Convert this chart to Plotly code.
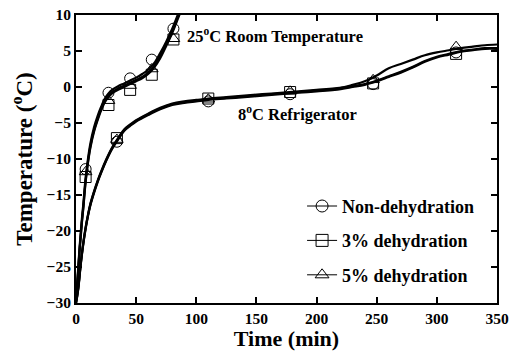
import plotly.graph_objects as go

# ---------------- data ----------------
room_t = [0, 1, 2, 3, 4, 5, 6, 8, 10, 12, 15, 18, 21, 24, 27, 30, 35, 40, 45,
          50, 55, 60, 65, 70, 75, 80, 85, 90]
room_non = [-29.3, -27.2, -24.7, -22.2, -20.1, -18.1, -16.4, -12.6, -9.9, -7.8, -5.6, -4.0,
            -2.7, -1.6, -0.9, -0.4, 0.1, 0.5, 0.9, 1.3, 1.8, 2.4, 3.3, 4.7, 6.3, 8.1, 10.2, 12.4]
room_3 = [-29.6, -27.7, -25.2, -22.7, -20.7, -18.7, -17.0, -13.2, -10.5, -8.4, -6.2, -4.6,
          -3.2, -2.1, -1.4, -0.9, -0.4, 0.0, 0.4, 0.8, 1.2, 1.8, 2.7, 4.0, 5.7, 7.5, 9.6, 11.8]
room_5 = [-29.5, -27.5, -25.0, -22.5, -20.5, -18.5, -16.8, -13.0, -10.3, -8.2, -6.0, -4.4,
          -3.0, -1.9, -1.2, -0.7, -0.2, 0.2, 0.6, 1.0, 1.4, 2.0, 2.9, 4.3, 5.9, 7.7, 9.8, 12.0]

fr_t = [0, 1, 2, 4, 6, 8, 10, 12, 15, 18, 21, 25, 30, 35, 40, 45, 50, 60, 70, 80, 90,
        100, 110, 125, 140, 155, 170, 185, 200, 215, 230, 240, 250, 260, 270, 280, 290,
        300, 310, 320, 330, 340, 350]
fr_non = [-30.0, -29.1, -27.9, -24.6, -21.9, -19.7, -17.9, -16.4, -14.7, -13.2, -11.9,
          -10.3, -8.6, -7.3, -6.1, -5.4, -4.8, -3.9, -3.1, -2.5, -2.2, -2.0, -1.8, -1.6,
          -1.4, -1.2, -1.0, -0.8, -0.6, -0.4, 0.0, 0.3, 0.8, 1.4, 2.0, 2.7, 3.5, 4.1,
          4.5, 4.9, 5.1, 5.3, 5.3]
fr_3 = [-30.0, -28.9, -27.7, -24.4, -21.7, -19.5, -17.7, -16.2, -14.5, -13.0, -11.7,
        -10.1, -8.4, -7.1, -5.9, -5.2, -4.6, -3.7, -2.9, -2.3, -2.0, -1.8, -1.6, -1.4,
        -1.2, -1.0, -0.8, -0.6, -0.4, -0.2, 0.1, 0.4, 0.9, 1.5, 2.1, 2.8, 3.6, 4.2,
        4.6, 5.0, 5.2, 5.4, 5.4]
fr_5 = [-30.0, -29.0, -27.8, -24.5, -21.8, -19.6, -17.8, -16.3, -14.6, -13.1, -11.8,
        -10.2, -8.5, -7.2, -6.0, -5.3, -4.7, -3.8, -3.0, -2.4, -2.1, -1.9, -1.7, -1.5,
        -1.3, -1.1, -0.9, -0.7, -0.5, -0.3, 0.3, 0.8, 1.6, 2.6, 3.2, 3.8, 4.4, 4.8,
        5.1, 5.4, 5.6, 5.8, 5.9]

# marker points (open symbols)
room_mk_t = [8, 27, 45, 63, 81]
room_mk_non = [-11.4, -0.8, 1.2, 3.8, 8.1]
room_mk_3 = [-12.5, -2.5, -0.4, 1.7, 6.6]
room_mk_5 = [-11.8, -1.9, 0.2, 2.5, 6.7]

fr_mk_t = [34, 110, 178, 247, 316]
fr_mk_non = [-7.6, -2.0, -1.0, 0.4, 4.8]
fr_mk_3 = [-7.1, -1.6, -0.7, 0.5, 4.6]
fr_mk_5 = [-7.3, -1.7, -0.6, 1.0, 5.6]

series_names = ["Non-dehydration", "3% dehydration", "5% dehydration"]
symbols = ["circle-open", "square-open", "triangle-up-open"]

x_ticks = [0, 50, 100, 150, 200, 250, 300, 350]
y_ticks = [-30, -25, -20, -15, -10, -5, 0, 5, 10]

FONT = "Liberation Serif"

fig = go.Figure()

room_lines = [room_non, room_3, room_5]
fr_lines = [fr_non, fr_3, fr_5]
room_mks = [room_mk_non, room_mk_3, room_mk_5]
fr_mks = [fr_mk_non, fr_mk_3, fr_mk_5]

for i in range(3):
    fig.add_trace(go.Scatter(x=room_t, y=room_lines[i], mode="lines",
                             line=dict(color="black", width=2.2, shape="spline"),
                             showlegend=False, hoverinfo="skip"))
    fig.add_trace(go.Scatter(x=fr_t, y=fr_lines[i], mode="lines",
                             line=dict(color="black", width=2.2, shape="spline"),
                             showlegend=False, hoverinfo="skip"))
for i in range(3):
    fig.add_trace(go.Scatter(x=room_mk_t, y=room_mks[i], mode="markers",
                             marker=dict(symbol=symbols[i], size=11, color="black",
                                         line=dict(width=1)),
                             showlegend=False))
    fig.add_trace(go.Scatter(x=fr_mk_t, y=fr_mks[i], mode="markers",
                             marker=dict(symbol=symbols[i], size=11, color="black",
                                         line=dict(width=1)),
                             showlegend=False))
# legend entries
for i in range(3):
    fig.add_trace(go.Scatter(x=[None], y=[None], mode="lines+markers", name=series_names[i],
                             legendgroup=str(i),
                             line=dict(color="black", width=1),
                             marker=dict(symbol=symbols[i], size=12, color="black",
                                         line=dict(width=1))))

fig.update_layout(
    width=512, height=351,
    margin=dict(l=76, r=15, t=15, b=48),
    paper_bgcolor="white", plot_bgcolor="white",
    font=dict(family=FONT, size=15, color="black"),
    showlegend=True,
    legend=dict(x=0.537, y=0.40, xanchor="left", yanchor="top",
                bgcolor="rgba(0,0,0,0)", tracegroupgap=8,
                font=dict(family=FONT, size=18, color="black", weight="bold"),
                itemwidth=30),
    xaxis=dict(range=[0, 350], tickvals=x_ticks, automargin=False,
               ticks="inside", ticklen=6, tickwidth=2, tickcolor="black",
               showline=True, linewidth=2, linecolor="black", mirror="ticks",
               showgrid=False, zeroline=False,
               tickfont=dict(family=FONT, size=15.5, weight="bold"),
               title=dict(text="Time (min)", standoff=2,
                          font=dict(family=FONT, size=22, weight="bold"))),
    yaxis=dict(range=[-30, 10], tickvals=y_ticks, automargin=False,
               ticks="inside", ticklen=6, tickwidth=2, tickcolor="black",
               showline=True, linewidth=2, linecolor="black", mirror="ticks",
               showgrid=False, zeroline=False,
               tickfont=dict(family=FONT, size=15.5, weight="bold"),
               title=dict(text="Temperature (<sup>o</sup>C)", standoff=8,
                          font=dict(family=FONT, size=23, weight="bold"))),
    annotations=[
        dict(x=91, y=7.2, xref="x", yref="y", xanchor="left", yanchor="middle",
             text="<b>25<sup>o</sup>C Room Temperature</b>", showarrow=False,
             font=dict(family=FONT, size=16.5, color="black")),
        dict(x=133, y=-3.7, xref="x", yref="y", xanchor="left", yanchor="middle",
             text="<b>8<sup>o</sup>C Refrigerator</b>", showarrow=False,
             font=dict(family=FONT, size=16.5, color="black")),
    ],
)

fig.write_html("out.html")
